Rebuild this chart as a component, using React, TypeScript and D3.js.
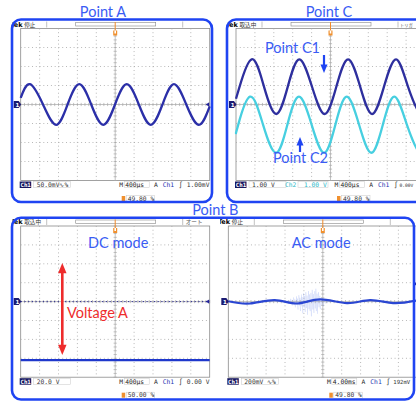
import React from 'react';
import * as d3 from 'd3';

const W = 416;
const H = 401;

type Pt = [number, number];

// Waveform key points: [time in divisions from left, level in divisions from centre]
const waveA: Pt[] = [
  [0, 0.35], [0.49, 1.07], [1.18, 0], [1.87, -1.07], [2.48, 0], [3.1, 1.07], [3.73, 0], [4.37, -1.07],
  [4.99, 0], [5.61, 1.07], [6.25, 0], [6.88, -1.07], [7.5, 0], [8.11, 1.07], [8.76, 0], [9.42, -1.07], [10, -0.1],
];
const waveC1: Pt[] = [
  [0, 0.3], [0.19, 0.94], [0.83, 2.38], [1.48, 0.94], [2.13, -0.5], [2.74, 0.94], [3.35, 2.38], [4.02, 0.94],
  [4.69, -0.5], [5.31, 0.94], [5.93, 2.38], [6.57, 0.94], [7.2, -0.5], [7.83, 0.94], [8.47, 2.38], [9.1, 0.94],
  [9.74, -0.5], [10, -0.35],
];
const waveC2: Pt[] = [
  [0, -1.5], [0.12, -1.06], [0.74, 0.41], [1.43, -1.06], [2.12, -2.54], [2.72, -1.06], [3.33, 0.41], [4.0, -1.06],
  [4.66, -2.54], [5.26, -1.06], [5.86, 0.41], [6.51, -1.06], [7.16, -2.54], [7.77, -1.06], [8.38, 0.41], [9.04, -1.06],
  [9.7, -2.54], [10, -2.3],
];
const waveDC: Pt[] = [[0, -3.1], [10, -3.1]];
const waveAC: Pt[] = [
  [0, 0.02], [1.15, -0.1], [2.46, 0.08], [3.63, -0.1], [4.85, 0.12], [6.28, -0.08], [7.5, 0.08], [8.72, -0.08], [9.93, 0.05],
];
// noise bursts on the AC trace: [time div, upper extent div, lower extent div]
const acNoise: [number, number, number][] = [
  [3.15, 0.08, 0.1], [3.28, 0.15, 0.12], [3.36, 0.1, 0.2], [3.45, 0.22, 0.14], [3.52, 0.12, 0.3], [3.6, 0.28, 0.18],
  [3.66, 0.16, 0.42], [3.73, 0.34, 0.2], [3.79, 0.2, 0.5], [3.86, 0.38, 0.26], [3.91, 0.24, 0.62], [3.98, 0.44, 0.3],
  [4.04, 0.3, 0.55], [4.1, 0.5, 0.34], [4.17, 0.32, 0.7], [4.24, 0.56, 0.4], [4.3, 0.38, 0.5], [4.37, 0.46, 0.78],
  [4.44, 0.62, 0.42], [4.5, 0.4, 0.6], [4.57, 0.55, 0.36], [4.63, 0.68, 0.5], [4.7, 0.42, 0.65], [4.77, 0.5, 0.3],
  [4.84, 0.3, 0.4], [4.92, 0.24, 0.2], [5.0, 0.18, 0.26], [5.1, 0.12, 0.1], [5.22, 0.07, 0.08],
];

const titles = ['Point A', 'Point C', 'Point B'];
const headerState = ['停止', '取込中', '取込中', '停止'];
const headerTrig = ['', 'トリガ', 'オート', ''];
const ch1Scale = ['50.0mV∿%', '1.00 V', '20.0 V', '200mV ∿%'];
const ch2Scale = ['', '1.00 V', '', ''];
const timeBase = ['400μs', '400μs', '400μs', '4.00ms'];
const trigLevel = ['1.00mV', '0.00V', '0.00 V', '192mV'];
const trigPos = ['49.80 %', '49.80 %', '50.00 %', '49.80 %'];

const FRAME = '#1f44f2';
const TITLE = '#3a5cf4';
const MONO = '"DejaVu Sans Mono", monospace';
const SANS = 'Lato, "Open Sans", sans-serif';

type Trace = { pts: Pt[]; color: string; width: number };

function Scope(props: {
  id: string; idx: number; gx: number; gy: number; dw: number; dh: number; clipRight: number;
  traces: Trace[]; noise?: [number, number, number][]; groundDotted?: boolean; rightMarkerY?: number | null;
  trigSize?: number; headSize?: number; trigDx?: number; headDx?: number;
}) {
  const { id, idx, gx, gy, dw, dh, clipRight, traces, noise, groundDotted, rightMarkerY } = props;
  const trigSize = props.trigSize ?? 6.3;
  const headSize = props.headSize ?? 5.6;
  const trigDx = props.trigDx ?? 166;
  const headDx = props.headDx ?? 165;
  const x = d3.scaleLinear().domain([0, 10]).range([gx, gx + 10 * dw]);
  const y = d3.scaleLinear().domain([-4, 4]).range([gy + 8 * dh, gy]);
  const gb = gy + 8 * dh;
  const gr = gx + 10 * dw;
  const line = d3.line<Pt>().x((d) => x(d[0])).y((d) => y(d[1])).curve(d3.curveNatural);
  const vTicks = d3.range(-20, 21).map((i) => i * 0.2);
  const hTicks = d3.range(0, 51).map((i) => i * 0.2);
  const gridCol = '#a8a8a8';
  const left = gx - 8.2;
  return (
    <g>
      <defs>
        <clipPath id={id}>
          <rect x={left} y={gy - 9} width={clipRight - left} height={8 * dh + 32} />
        </clipPath>
      </defs>
      <g clipPath={`url(#${id})`}>
        {/* header */}
        <text x={gx - 10.5} y={gy - 1.6} fontSize={6.5} fontWeight="bold" fontFamily='"DejaVu Sans", sans-serif' fill="#000">Tek</text>
        <text x={gx + 3.5} y={gy - 1.8} fontSize={5.6} fontFamily='"Noto Sans CJK JP", sans-serif' fill="#333">{headerState[idx]}</text>
        <line x1={gx + 26} x2={gx + 26} y1={gy - 7} y2={gy - 1} stroke="#999" strokeWidth={0.6} />
        <rect x={gx + 55} y={gy - 6} width={80} height={3.5} fill="#fff" stroke="#888" strokeWidth={0.6} />
        <line x1={gx + 162} x2={gx + 162} y1={gy - 7} y2={gy - 1} stroke="#999" strokeWidth={0.6} />
        {headerTrig[idx] && (
          <text x={gx + headDx} y={gy - 1.8} fontSize={headSize} fontFamily='"Noto Sans CJK JP", sans-serif' fill="#555">{headerTrig[idx]}</text>
        )}
        {/* grid */}
        <rect x={gx} y={gy} width={10 * dw} height={8 * dh} fill="#fff" stroke="#8a8a8a" strokeWidth={0.8} />
        {d3.range(1, 10).filter((i) => i !== 5).map((i) => (
          <line key={'v' + i} x1={x(i)} x2={x(i)} y1={gy} y2={gb} stroke={gridCol} strokeWidth={0.9} strokeDasharray={`0.9 ${dw / 5 - 0.9}`} />
        ))}
        {d3.range(-3, 4).filter((i) => i !== 0).map((i) => (
          <line key={'h' + i} x1={gx} x2={gr} y1={y(i)} y2={y(i)} stroke={gridCol} strokeWidth={0.9} strokeDasharray={`0.9 ${dw / 5 - 0.9}`} />
        ))}
        <line x1={x(5)} x2={x(5)} y1={gy} y2={gb} stroke={gridCol} strokeWidth={0.7} />
        <line x1={gx} x2={gr} y1={y(0)} y2={y(0)} stroke={gridCol} strokeWidth={0.7} />
        {vTicks.map((t, i) => (
          <line key={'vt' + i} x1={x(5) - 1.6} x2={x(5) + 1.6} y1={y(t)} y2={y(t)} stroke={gridCol} strokeWidth={0.7} />
        ))}
        {hTicks.map((t, i) => (
          <line key={'ht' + i} x1={x(t)} x2={x(t)} y1={y(0) - 1.6} y2={y(0) + 1.6} stroke={gridCol} strokeWidth={0.7} />
        ))}
        {groundDotted && (
          <line x1={gx} x2={gr} y1={y(0)} y2={y(0)} stroke="#2b2b95" strokeWidth={1} strokeDasharray="1.2 2.5" />
        )}
        {/* trigger marker */}
        <line x1={x(5)} x2={x(5)} y1={gy - 6.5} y2={gy + 2} stroke="#f08a2a" strokeWidth={1} />
        <rect x={x(5) - 2} y={gy + 2} width={4} height={5} fill="#f0902e" />
        <rect x={x(5) - 0.8} y={gy + 2} width={1.6} height={3} fill="#fff" />
        {/* noise */}
        {noise && noise.map((d, i) => (
          <line key={'n' + i} x1={x(d[0])} x2={x(d[0]) + 0.6} y1={y(d[1])} y2={y(-d[2])} stroke="#6f8cf0" strokeWidth={0.45} opacity={0.6} />
        ))}
        {/* traces */}
        {traces.map((t, i) => (
          <path key={'t' + i} d={line(t.pts) || ''} fill="none" stroke={t.color} strokeWidth={t.width} strokeLinejoin="round" />
        ))}
        {/* ground marker */}
        <path d={`M${gx - 7},${y(0) - 3.5}h5l2.5,3.5l-2.5,3.5h-5z`} fill="#1b1b72" />
        <text x={gx - 5.3} y={y(0) + 2.3} fontSize={5.5} fontWeight="bold" fill="#fff" fontFamily='"DejaVu Sans", sans-serif'>1</text>
        {rightMarkerY != null && (
          <path d={`M${gr - 4},${y(rightMarkerY)}l3.5,-2.2v4.4z`} fill="#23239a" />
        )}
        {/* status row */}
        <rect x={gx - 1} y={gb + 1} width={11.5} height={6.5} fill="#17175e" />
        <text x={gx - 0.3} y={gb + 6.4} fontSize={5.8} fontFamily={MONO} fill="#fff" fontWeight="bold">Ch1</text>
        <rect x={gx + 13} y={gb + 1.2} width={37} height={6} fill="none" stroke="#c8c8c8" strokeWidth={0.5} />
        <text x={gx + 16} y={gb + 6.4} fontSize={6.3} fontFamily={MONO} fill="#333">{ch1Scale[idx]}</text>
        {ch2Scale[idx] && (
          <g>
            <text x={gx + 49} y={gb + 6.4} fontSize={6.3} fontFamily={MONO} fill="#2ab8c8">Ch2</text>
            <rect x={gx + 62} y={gb + 1.2} width={30} height={6} fill="none" stroke="#c8c8c8" strokeWidth={0.5} />
            <text x={gx + 68} y={gb + 6.4} fontSize={6.3} fontFamily={MONO} fill="#2ab8c8">{ch2Scale[idx]}</text>
          </g>
        )}
        <text x={gx + 98.6} y={gb + 6.4} fontSize={6.3} fontFamily={MONO} fill="#222">M</text>
        <rect x={gx + 103.5} y={gb + 1.2} width={25} height={6} fill="none" stroke="#c8c8c8" strokeWidth={0.5} />
        <text x={gx + 104.5} y={gb + 6.4} fontSize={6.3} fontFamily={MONO} fill="#222">{timeBase[idx]}</text>
        <text x={gx + 133.3} y={gb + 6.4} fontSize={6.3} fontFamily={MONO} fill="#222">A</text>
        <text x={gx + 142} y={gb + 6.4} fontSize={6.3} fontFamily={MONO} fill="#2433b0">Ch1</text>
        <text x={gx + 158} y={gb + 6.4} fontSize={6.3} fontFamily={MONO} fill="#222">∫</text>
        <text x={gx + trigDx} y={gb + 6.4} fontSize={trigSize} fontFamily={MONO} fill="#333">{trigLevel[idx]}</text>
        {/* trigger position row */}
        <rect x={gx + 101} y={gb + 15.5} width={3.5} height={5} fill="#f0902e" />
        <rect x={gx + 105.5} y={gb + 15} width={28.5} height={6} fill="#fff" stroke="#c8c8c8" strokeWidth={0.5} />
        <text x={gx + 107} y={gb + 20.2} fontSize={6.3} fontFamily={MONO} fill="#333">{trigPos[idx]}</text>
      </g>
    </g>
  );
}

function Arrow({ x, y1, y2, color, w, head, both }: { x: number; y1: number; y2: number; color: string; w: number; head: number; both?: boolean }) {
  const dir = y2 > y1 ? 1 : -1;
  const hl = head * 1.2;
  return (
    <g>
      <line x1={x} x2={x} y1={both ? y1 + dir * hl * 0.8 : y1} y2={y2 - dir * hl * 0.8} stroke={color} strokeWidth={w} />
      <path d={`M${x},${y2}L${x - head / 2},${y2 - dir * hl}L${x + head / 2},${y2 - dir * hl}Z`} fill={color} />
      {both && <path d={`M${x},${y1}L${x - head / 2},${y1 + dir * hl}L${x + head / 2},${y1 + dir * hl}Z`} fill={color} />}
    </g>
  );
}

export default function App() {
  return (
    <svg width={W} height={H} viewBox={`0 0 ${W} ${H}`} style={{ position: 'absolute', left: 0, top: 0, background: '#fff' }}>
      <rect x={0} y={0} width={W} height={H} fill="#fff" />
      <Scope id="cA" idx={0} gx={20.7} gy={28.5} dw={18.9} dh={19} clipRight={211}
        traces={[{ pts: waveA, color: '#2b2fa8', width: 2.3 }]} rightMarkerY={0} />
      <Scope id="cC" idx={1} gx={236} gy={28.5} dw={18.9} dh={19} clipRight={430}
        trigSize={4.6} trigDx={163.5} headSize={4.2} headDx={164}
        traces={[{ pts: waveC2, color: '#47cfe0', width: 2.3 }, { pts: waveC1, color: '#2e2f9e', width: 2.3 }]} />
      <Scope id="cD" idx={2} gx={20.7} gy={226} dw={18.9} dh={18.9} clipRight={211.2}
        traces={[{ pts: waveDC, color: '#1f38cc', width: 2.3 }]} groundDotted rightMarkerY={0} />
      <Scope id="cE" idx={3} gx={228.3} gy={226} dw={18.9} dh={18.9} clipRight={416}
        trigSize={5.6} trigDx={165}
        traces={[{ pts: waveAC, color: '#2a46d2', width: 2.2 }]} noise={acNoise} rightMarkerY={0.94} />

      {/* frames */}
      <rect x={12} y={19.5} width={200} height={182.5} rx={9} fill="none" stroke={FRAME} strokeWidth={2.6} />
      <rect x={227} y={19.5} width={220} height={182.5} rx={9} fill="none" stroke={FRAME} strokeWidth={2.6} />
      <rect x={12} y={217.8} width={402} height={181.7} rx={9} fill="none" stroke={FRAME} strokeWidth={2.6} />

      {/* titles */}
      <text x={103} y={17.3} textAnchor="middle" fontSize={14.5} fontFamily={SANS} fill={TITLE}>{titles[0]}</text>
      <text x={329} y={17.3} textAnchor="middle" fontSize={14.5} fontFamily={SANS} fill={TITLE}>{titles[1]}</text>
      <text x={215.3} y={214.6} textAnchor="middle" fontSize={14.5} fontFamily={SANS} fill={TITLE}>{titles[2]}</text>

      {/* annotations */}
      <text x={265} y={53} fontSize={14.5} fontFamily={SANS} fill={TITLE}>Point C1</text>
      <Arrow x={324} y1={55} y2={73} color={FRAME} w={2.2} head={7} />
      <text x={273} y={163} fontSize={14.5} fontFamily={SANS} fill={TITLE}>Point C2</text>
      <Arrow x={300} y1={152} y2={137} color={FRAME} w={2.2} head={7} />
      <text x={88} y={248} fontSize={14.5} fontFamily={SANS} fill={TITLE}>DC mode</text>
      <text x={291.7} y={248} fontSize={14.5} fontFamily={SANS} fill={TITLE}>AC mode</text>
      <Arrow x={62.3} y1={263} y2={355} color="#ee2c2c" w={2.6} head={8.5} both />
      <text x={67} y={318.3} fontSize={14.5} fontFamily={SANS} fill="#ee2c2c">Voltage A</text>
    </svg>
  );
}
